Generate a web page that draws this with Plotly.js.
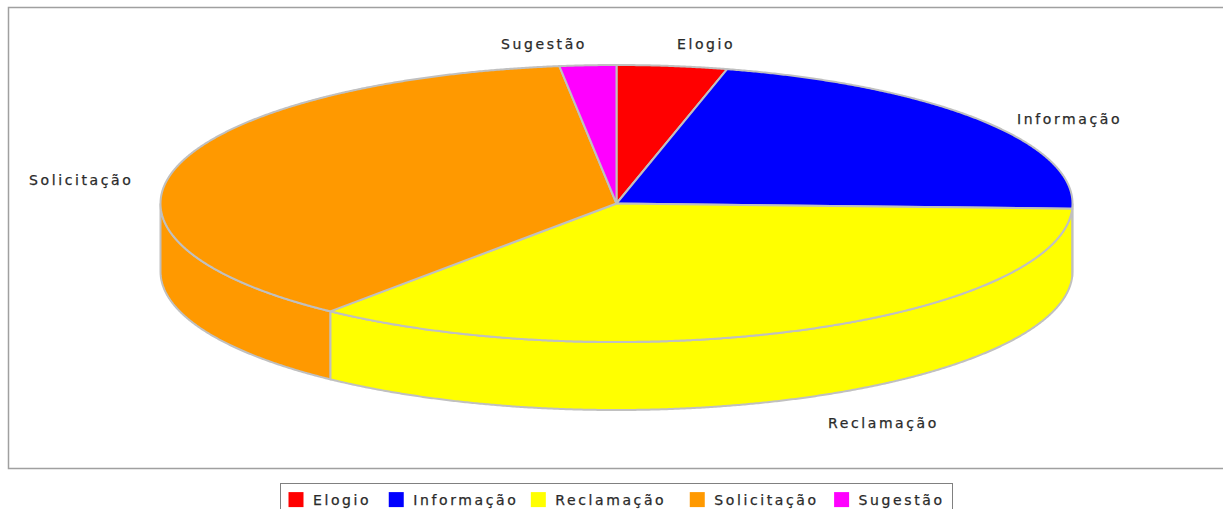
<!DOCTYPE html>
<html>
<head>
<meta charset="utf-8">
<script src="https://cdn.plot.ly/plotly-3.0.1.min.js"></script>
<style>
html,body{margin:0;padding:0;background:#fff;overflow:hidden}
#chart{width:1223px;height:509px}
.annotation-text,.legendtext{letter-spacing:2.6px;stroke:#2a2a2a;stroke-width:.25px}
.legendtext{transform:translateX(-3px)}
</style>
</head>
<body>
<div id="chart"></div>
<script>
// Data
var categories = ["Elogio", "Informação", "Reclamação", "Solicitação", "Sugestão"];
var values = [39, 217, 352, 372, 20];
var colors = ["#ff0000", "#0000ff", "#ffff00", "#ff9900", "#ff00ff"];

// Projection of the tilted pie (px-space axes)
var CX = 616.5, CY = 203.5, RX = 456, RY = 138.5, DEPTH = 68;
var EDGE = "#c0c0c0";
var LABEL_FONT = {family: "DejaVu Sans", size: 14, color: "#2a2a2a"};
var labelX = [706, 1069, 883, 81, 544];
var labelY = [44, 119, 423, 180, 44];

function px(t){ return CX + RX * Math.sin(t * Math.PI / 180); }
function py(t, d){ return CY - RY * Math.cos(t * Math.PI / 180) + (d || 0); }
function arc(a, b, d){
  var xs = [], ys = [], n = Math.max(2, Math.ceil(Math.abs(b - a) * 4));
  for (var i = 0; i <= n; i++){ var t = a + (b - a) * i / n; xs.push(px(t)); ys.push(py(t, d)); }
  return {x: xs, y: ys};
}

var total = values.reduce(function(s, v){ return s + v; }, 0);
var sides = [], tops = [], swatches = [], start = 0;
categories.forEach(function(name, i){
  var end = start + 360 * values[i] / total;
  var a = Math.max(start, 90), b = Math.min(end, 270);
  if (b > a){
    var up = arc(a, b, 0), low = arc(b, a, DEPTH);
    sides.push({type: "scatter", mode: "lines", fill: "toself", fillcolor: colors[i],
      x: up.x.concat(low.x, [up.x[0]]), y: up.y.concat(low.y, [up.y[0]]),
      line: {color: EDGE, width: 2, simplify: false}, showlegend: false, hoverinfo: "skip"});
  }
  var rim = arc(start, end, 0);
  tops.push({type: "scatter", mode: "lines", fill: "toself", fillcolor: colors[i],
    x: [CX].concat(rim.x, [CX]), y: [CY].concat(rim.y, [CY]),
    line: {color: EDGE, width: 2, simplify: false}, showlegend: false, name: name,
    text: name + ": " + values[i], hoverinfo: "text"});
  swatches.push({type: "scatter", mode: "markers", x: [null], y: [null], name: name,
    marker: {symbol: "square", size: 15, color: colors[i]}, hoverinfo: "skip"});
  start = end;
});

var annotations = categories.map(function(name, i){
  return {x: labelX[i], y: labelY[i], xref: "x", yref: "y", text: name, showarrow: false,
    font: LABEL_FONT, xanchor: "center", yanchor: "middle"};
});

var layout = {
  width: 1223, height: 509,
  margin: {l: 0, r: 0, t: 0, b: 0, pad: 0, autoexpand: false},
  paper_bgcolor: "#fff", plot_bgcolor: "#fff",
  xaxis: {range: [0, 1223], visible: false, fixedrange: true},
  yaxis: {range: [509, 0], visible: false, fixedrange: true},
  shapes: [{type: "rect", xref: "x", yref: "y", x0: 8.5, x1: 1240, y0: 7.5, y1: 468.5,
    line: {color: "#a0a0a0", width: 1.5}, fillcolor: "rgba(0,0,0,0)", layer: "below"}],
  annotations: annotations,
  showlegend: true,
  legend: {orientation: "h", xref: "container", yref: "container",
    x: 280 / 1223, xanchor: "left", y: 1 - 483 / 509, yanchor: "top",
    bgcolor: "#fff", bordercolor: "#808080", borderwidth: 1,
    font: {family: "DejaVu Sans", size: 14, color: "#2a2a2a"},
    itemwidth: 30, traceorder: "normal", itemclick: false, itemdoubleclick: false}
};

var LEGEND_WIDTH = 672, LEGEND_SHIFT = [-5, -8, -16, -13, -18];
Plotly.newPlot("chart", sides.concat(tops, swatches), layout, {displayModeBar: false, responsive: false}).then(function(){
  // Plotly's fixed item gap is wider than the original's: pull the entries together.
  var items = document.querySelectorAll(".legend .traces");
  items.forEach(function(g, i){
    var m = /translate\(([-\d.]+)[ ,]+([-\d.]+)\)/.exec(g.getAttribute("transform"));
    if (m) g.setAttribute("transform", "translate(" + (parseFloat(m[1]) + LEGEND_SHIFT[i]) + "," + m[2] + ")");
  });
  var bg = document.querySelector(".legend .bg");
  if (bg) bg.setAttribute("width", LEGEND_WIDTH);
});
</script>
</body>
</html>
